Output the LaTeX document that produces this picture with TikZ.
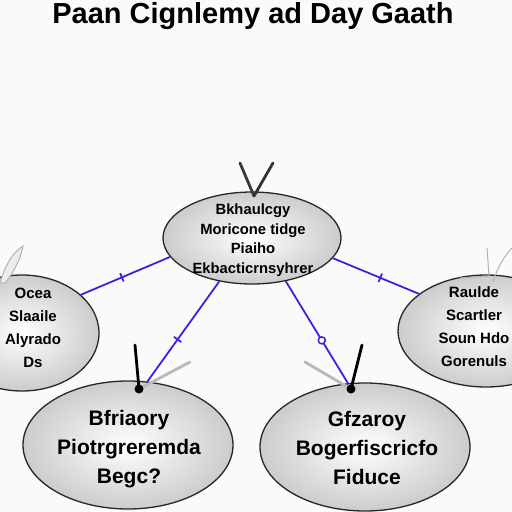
\documentclass[tikz,border=0pt]{standalone}
\usepackage{fontspec}
\setmainfont{Liberation Sans}
\usetikzlibrary{shapes.geometric}
\definecolor{linkblue}{HTML}{3B22E0}
\definecolor{bgwhite}{HTML}{FAFAFA}
\begin{document}
\begin{tikzpicture}[x=1pt,y=-1pt,
  bubble/.style={ellipse, draw=black!85, line width=1.3pt, inner sep=0pt,
    inner color=white, outer color=gray!40},
  label/.style={align=center, inner sep=0pt},
  link/.style={draw=linkblue, line width=1.8pt},
  tickmark/.style={sloped, rectangle, fill=linkblue, inner sep=0pt, minimum width=1.8pt, minimum height=9pt},
  ringmark/.style={circle, draw=linkblue, fill=white, line width=1.5pt, inner sep=0pt, minimum size=7pt},
  hand/.style={line width=2.8pt, line cap=round},
  leaf/.style={fill=gray!15, draw=gray!60, line width=1pt}]
\useasboundingbox (0,0) rectangle (512,512);
\fill[bgwhite] (0,0) rectangle (512,512);
\clip (0,0) rectangle (512,512);

\node[font=\bfseries\fontsize{29}{32}\selectfont] (title) at (253,16) {Paan Cignlemy ad Day Gaath};

\node[bubble, minimum width=178pt, minimum height=92pt] (core) at (252,238) {};
\node[bubble, minimum width=154pt, minimum height=116pt] (left) at (22,333) {};
\node[bubble, minimum width=176pt, minimum height=112pt] (right) at (486,331) {};
\node[bubble, minimum width=210pt, minimum height=128pt] (bl) at (128,445) {};
\node[bubble, minimum width=210pt, minimum height=128pt] (br) at (365,447) {};

\node[label, font=\bfseries\fontsize{14.8}{19.5}\selectfont] (coretext) at (253,240)
  {Bkhaulcgy\\Moricone tidge\\Piaiho\\Ekbacticrnsyhrer};
\node[label, font=\bfseries\fontsize{15}{23}\selectfont] (lefttext) at (33,328)
  {Ocea\\Slaaile\\Alyrado\\Ds};
\node[label, font=\bfseries\fontsize{15}{23}\selectfont] (righttext) at (474,327)
  {Raulde\\Scartler\\Soun Hdo\\Gorenuls};
\node[label, font=\bfseries\fontsize{21}{29}\selectfont] (bltext) at (129,449)
  {Bfriaory\\Piotrgreremda\\Begc?};
\node[label, font=\bfseries\fontsize{21}{29}\selectfont] (brtext) at (367,448)
  {Gfzaroy\\Bogerfiscricfo\\Fiduce};

\draw[link] (core.193) -- node[tickmark, pos=0.54] (tk1) {} (left.33);
\draw[link] (core.346) -- node[tickmark, pos=0.55] (tk2) {} (right.151);
\draw[link] (core.233) -- node[tickmark, pos=0.58] (tk3) {} (bl.73);
\draw[link] (core.308) -- node[ringmark, pos=0.58] (tk4) {} (br.105);

% pointer hands
\coordinate (vtop) at (254,196);
\draw[hand, gray!45!black] (240,163) -- (vtop);
\draw[hand, black!80] (273,163) -- (vtop);
\coordinate (vbl) at (139,389);
\draw[hand, black] (135,345) -- (vbl);
\draw[hand, gray!55] (190,362) -- (vbl);
\fill[black] (vbl) circle (4.5pt);
\coordinate (vbr) at (351,389);
\draw[hand, gray!55] (305,362) -- (vbr);
\draw[hand, black] (362,345) -- (vbr);
\fill[black] (vbr) circle (4.5pt);

% leaves
\filldraw[leaf] (0,283) .. controls (6,262) and (14,252) .. (23,246) .. controls (20,262) and (12,274) .. (5,283) -- cycle;
\draw[gray!60, line width=1pt] (487,248) -- (489,276) -- (460,278);
\draw[gray!60, line width=1pt] (493,282) .. controls (498,266) and (505,255) .. (512,248);
\end{tikzpicture}
\end{document}
